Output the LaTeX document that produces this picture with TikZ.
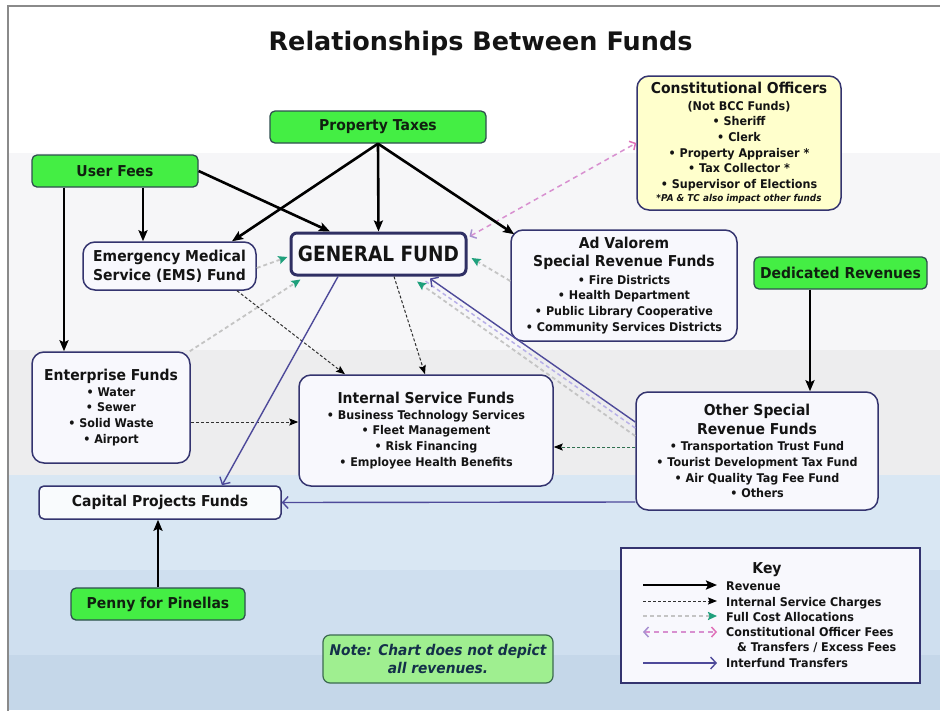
\documentclass[tikz,border=0pt]{standalone}
\usepackage{fontspec}
\setmainfont{DejaVu Sans}
\newfontfamily\cfam{DejaVu Sans}[FakeStretch=0.93]
\newfontfamily\gfam{DejaVu Sans}[FakeStretch=0.88]
\usetikzlibrary{arrows.meta}
\definecolor{boxc}{HTML}{34346F}
\definecolor{boxfill}{HTML}{F8F8FD}
\definecolor{grn}{HTML}{44EE44}
\definecolor{grnb}{HTML}{2F4F4F}
\definecolor{grnt}{HTML}{102010}
\definecolor{txt}{HTML}{141414}
\definecolor{yel}{HTML}{FFFFCC}
\definecolor{notef}{HTML}{9FEF90}
\definecolor{noteb}{HTML}{3C6A50}
\definecolor{notet}{HTML}{14304A}
\definecolor{iscc}{HTML}{303030}
\definecolor{iscg}{HTML}{2F6F4F}
\definecolor{fcac}{HTML}{C4C4C4}
\definecolor{tealc}{HTML}{1FA07C}
\definecolor{pinkc}{HTML}{E070B8}
\definecolor{cofc}{HTML}{D890D0}
\definecolor{lavc}{HTML}{A890D0}
\definecolor{lavl}{HTML}{B8B0E8}
\definecolor{iftc}{HTML}{4E4A9A}
\definecolor{bandA}{HTML}{F6F6F8}
\definecolor{bandB}{HTML}{EDEDEE}
\definecolor{bandC}{HTML}{D9E7F3}
\definecolor{bandD}{HTML}{CFDFEF}
\definecolor{bandE}{HTML}{C5D7E9}
\definecolor{framec}{HTML}{8A8A8A}
\newcommand\hdf{\cfam\bfseries\fontsize{15}{19}\selectfont}
\newcommand\bdf{\cfam\bfseries\fontsize{12}{15.6}\selectfont}
\newcommand\smf{\cfam\bfseries\itshape\fontsize{9.5}{12}\selectfont}
\tikzset{
  fund/.style={draw=boxc, line width=1.5pt, fill=boxfill, rounded corners=12pt,
    inner sep=0pt, align=center, font=\bdf, text=txt},
  grnbox/.style={draw=grnb, line width=1.3pt, fill=grn, rounded corners=5pt,
    inner sep=0pt, font=\hdf, text=grnt},
  rev/.style={line width=2.6pt, draw=black, -{Stealth[length=11pt,width=9pt,inset=2pt]}},
  isc/.style={line width=1pt, draw=iscc, dash pattern=on 3pt off 2pt,
    -{Stealth[length=9pt,width=7pt,inset=1.5pt,color=black]}},
  iscgreen/.style={isc, draw=iscg},
  fca/.style={line width=1.8pt, draw=fcac, dash pattern=on 4pt off 3pt,
    -{Stealth[length=9pt,width=8pt,inset=1.5pt,color=tealc]}},
  cof/.style={line width=1.5pt, draw=cofc, dash pattern=on 5pt off 4pt,
    {Straight Barb[length=4.5pt,width=10pt,color=lavc]}-{Straight Barb[length=4.5pt,width=10pt,color=pinkc]}},
  coflight/.style={line width=1.5pt, draw=lavl, dash pattern=on 4pt off 3pt},
  ift/.style={line width=1.4pt, draw=iftc, -{Straight Barb[length=5.5pt,width=12pt]}},
  keytext/.style={anchor=base west, font=\bdf, text=txt, inner sep=0pt},
}
\begin{document}
\begin{tikzpicture}[x=1pt,y=-1pt]
\useasboundingbox (0,0) rectangle (940,710);
% background bands
\fill[white] (0,0) rectangle (940,710);
\fill[bandA] (9,153) rectangle (940,350);
\fill[bandB] (9,350) rectangle (940,475);
\fill[bandC] (9,475) rectangle (940,570);
\fill[bandD] (9,570) rectangle (940,655);
\fill[bandE] (9,655) rectangle (940,710);
\draw[framec, line width=1.6pt] (8,712) -- (8,6) -- (942,6);

% title
\node[anchor=base, font=\bfseries\fontsize{25.5}{30}\selectfont, text=txt] (title) at (480.5,50) {Relationships Between Funds};

% green revenue sources
\node[grnbox, minimum width=216pt, minimum height=32pt] (pt) at (378,127) {Property Taxes};
\node[grnbox, minimum width=166pt, minimum height=32pt] (uf) at (115,171) {User Fees};
\node[grnbox, minimum width=173pt, minimum height=32pt] (dr) at (840.5,273) {Dedicated Revenues};
\node[grnbox, minimum width=174pt, minimum height=32pt] (pp) at (158,604) {Penny for Pinellas};

% funds
\node[fund, fill=yel, minimum width=204pt, minimum height=134pt] (co) at (739,143)
  {{\hdf Constitutional Officers}\\[1pt] (Not BCC Funds)\\ • Sheriff\\ • Clerk\\ • Property Appraiser *\\ • Tax Collector *\\ • Supervisor of Elections\\[-2pt] {\smf *PA \& TC also impact other funds}};
\node[fund, minimum width=173pt, minimum height=48pt] (ems) at (169.5,266)
  {{\hdf Emergency Medical}\\[3pt] {\hdf Service (EMS) Fund}};
\node[fund, line width=3pt, draw=boxc!90!black, rounded corners=6pt, minimum width=175pt, minimum height=42pt,
  font=\gfam\bfseries\fontsize{21}{24}\selectfont] (gf) at (378.5,254) {GENERAL FUND};
\node[fund, minimum width=226pt, minimum height=111pt] (av) at (624,285.5)
  {{\hdf Ad Valorem}\\[2.5pt] {\hdf Special Revenue Funds}\\[2pt] • Fire Districts\\ • Health Department\\ • Public Library Cooperative\\ • Community Services Districts};
\node[fund, minimum width=158pt, minimum height=111pt] (ef) at (111,407.5)
  {{\hdf Enterprise Funds}\\ • Water\\ • Sewer\\ • Solid Waste\\ • Airport};
\node[fund, minimum width=254pt, minimum height=111pt] (isf) at (426,430.5)
  {{\hdf Internal Service Funds}\\ • Business Technology Services\\ • Fleet Management\\ • Risk Financing\\ • Employee Health Benefits};
\node[fund, minimum width=242pt, minimum height=118pt] (os) at (757,451)
  {{\hdf Other Special}\\[3.5pt] {\hdf Revenue Funds}\\[0.5pt] • Transportation Trust Fund\\ • Tourist Development Tax Fund\\ • Air Quality Tag Fee Fund\\ • Others};
\node[fund, fill=boxfill!60!bandC!30!white, rounded corners=5pt, minimum width=242pt, minimum height=33pt] (cp) at (160,502.5)
  {{\hdf Capital Projects Funds}};

% note
\node[draw=noteb, line width=1.2pt, fill=notef, rounded corners=7pt, inner sep=0pt,
  minimum width=230pt, minimum height=48pt, align=center, text=notet,
  font=\cfam\bfseries\itshape\fontsize{14.8}{18}\selectfont] (note) at (438,659)
  {Note: Chart does not depict\\ all revenues.};

% key
\node[draw=boxc, line width=1.5pt, fill=boxfill, inner sep=0pt, minimum width=299pt, minimum height=135pt] (key) at (770.5,615.5) {};
\node[anchor=base, font=\hdf, text=txt, inner sep=0pt] (keyt) at (767,573) {Key};
\node[keytext] (k1t) at (726,590) {Revenue};
\node[keytext] (k2t) at (726,606) {Internal Service Charges};
\node[keytext] (k3t) at (726,621) {Full Cost Allocations};
\node[keytext] (k4t) at (726,636) {Constitutional Officer Fees};
\node[keytext] (k5t) at (737,651) {\& Transfers / Excess Fees};
\node[keytext] (k6t) at (726,667) {Interfund Transfers};
\coordinate (k1a) at (643,585); \coordinate (k1b) at (717,585);
\coordinate (k2a) at (643,601); \coordinate (k2b) at (717,601);
\coordinate (k3a) at (643,616); \coordinate (k3b) at (717,616);
\coordinate (k4a) at (643,632); \coordinate (k4b) at (717,632);
\coordinate (k6a) at (643,663); \coordinate (k6b) at (717,663);
\draw[rev] (k1a) -- (k1b);
\draw[isc] (k2a) -- (k2b);
\draw[fca] (k3a) -- (k3b);
\draw[cof] (k4a) -- (k4b);
\draw[ift] (k6a) -- (k6b);

% full cost allocations (drawn first, under)
\draw[fca] ([yshift=-2pt]ems.east) -- ([xshift=-2pt,yshift=-3pt]gf.west);
\draw[fca] ([xshift=-1pt]ef.north east) -- ([xshift=11pt,yshift=-3pt]gf.south west);
\draw[fca] ([yshift=4.5pt]av.west) -- ([xshift=4pt,yshift=-4pt]gf.east);
\draw[fca] ([yshift=15pt]os.west) -- ([xshift=38.5pt,yshift=-5pt]gf.south);
% constitutional officer fees
\draw[coflight] ([yshift=23pt]os.west) -- ([xshift=46pt,yshift=-4pt]gf.south);
\draw[cof] ([xshift=2pt,yshift=-5pt]gf.north east) -- (co.west);

% revenue
\draw[rev] (pt.south) -- ([xshift=62.5pt]ems.north);
\draw[rev] (pt.south) -- (gf.north);
\draw[rev] (pt.south) -- ([xshift=4pt,yshift=-5pt]av.north west);
\draw[rev] (uf.east) -- ([xshift=-48.5pt]gf.north);
\draw[rev] ([xshift=28pt]uf.south) -- ([xshift=-26.5pt]ems.north);
\draw[rev] ([xshift=-51pt]uf.south) -- ([xshift=-47pt]ef.north);
\draw[rev] ([xshift=-30.5pt]dr.south) -- ([xshift=53pt]os.north);
\draw[rev] (pp.north) -- (pp.north |- cp.south);

% internal service charges
\draw[isc] ([xshift=67.5pt]ems.south) -- ([xshift=-81pt]isf.north);
\draw[isc] ([xshift=15.5pt]gf.south) -- ([xshift=-1pt]isf.north);
\draw[isc] ([yshift=-14.5pt]ef.east) -- ([yshift=-14.5pt]ef.east -| isf.west);
\draw[iscgreen] ([yshift=4pt]os.west) -- ([yshift=4pt]os.west -| isf.east);

% interfund transfers
\draw[ift] ([yshift=29pt]os.west) -- ([xshift=51.5pt,yshift=-2pt]gf.south);
\draw[ift] ([xshift=-40.5pt]gf.south) -- ([xshift=62pt]cp.north);
\draw[ift] ([yshift=-51pt]os.west) -- (cp.east);
\end{tikzpicture}
\end{document}
